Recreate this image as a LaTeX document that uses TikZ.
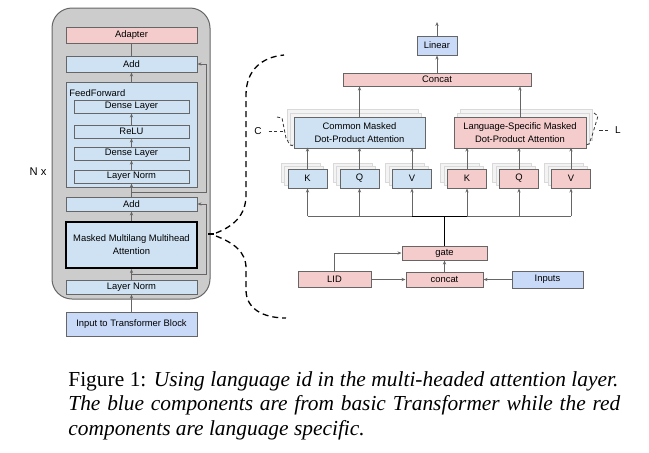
\documentclass[tikz,border=0pt]{standalone}
\usepackage{fontspec}
\setmainfont{Liberation Serif}
\newfontfamily\boxfont{Liberation Sans}
\usetikzlibrary{arrows.meta,positioning,calc}
\definecolor{blockgray}{HTML}{CCCCCC}
\definecolor{bluefill}{HTML}{CFE2F3}
\definecolor{pinkfill}{HTML}{F4CCCC}
\definecolor{lavfill}{HTML}{C9DAF8}
\definecolor{edgegray}{HTML}{666666}
\definecolor{shadefill}{HTML}{F3F3F3}
\definecolor{shadeedge}{HTML}{D9D9D9}

\begin{document}
\begin{tikzpicture}[
		x=0.5pt, y=-0.5pt,
		>={Stealth[length=2pt,width=1.6pt]},
		box/.style={
			draw=edgegray,
			line width=0.5pt,
			inner sep=0pt,
			align=center,
			font=\boxfont\fontsize{4.7}{5.6}\selectfont
		},
		bluebox/.style={box, fill=bluefill},
		pinkbox/.style={box, fill=pinkfill},
		lavbox/.style={box, fill=lavfill},
		shadebox/.style={
			draw=shadeedge,
			fill=shadefill,
			line width=0.4pt,
			inner sep=0pt
		},
		link/.style={
			->,
			draw=edgegray,
			line width=0.45pt
		},
		busline/.style={
			draw=black,
			line width=0.5pt
		},
		bracedash/.style={
			draw=black,
			line width=0.65pt,
			dash pattern=on 3pt off 2pt
		},
		tagdash/.style={
			draw=black!80,
			line width=0.4pt,
			dash pattern=on 1.6pt off 1.2pt
		},
		caption/.style={
			anchor=base west,
			inner sep=0pt,
			font=\fontsize{10.7}{12.3}\selectfont
		}
		]
		\useasboundingbox (0,0) rectangle (649,452);
		
		% transformer block (left)
		\draw[draw=edgegray, fill=blockgray, line width=0.5pt, rounded corners=10pt] (52,8) rectangle (210,299);
		\node[font=\boxfont\fontsize{5.6}{6}\selectfont] (nx) at (38,172) {N x};
		
		\node[pinkbox, minimum width=65.5pt, minimum height=8pt] (adapter) at (131.5,35) {Adapter};
		\node[bluebox, minimum width=65.5pt, minimum height=8pt] (add2) at (131.5,64) {Add};
		\node[bluebox, minimum width=65.5pt, minimum height=52.5pt] (ff) at (131.5,134.5) {};
		\node[anchor=west, font=\boxfont\fontsize{4.7}{5.6}\selectfont, inner sep=0pt] (fflabel) at (69,93) {FeedForward};
		\node[bluebox, minimum width=57.5pt, minimum height=6.5pt] (dense2) at (131.5,106.5) {Dense Layer};
		\node[bluebox, minimum width=57.5pt, minimum height=6.5pt] (relu) at (131.5,131.5) {ReLU};
		\node[bluebox, minimum width=57.5pt, minimum height=6.5pt] (dense1) at (131.5,153.5) {Dense Layer};
		\node[bluebox, minimum width=57.5pt, minimum height=6.5pt] (ln2) at (131.5,176.5) {Layer Norm};
		\node[bluebox, minimum width=65.5pt, minimum height=7pt] (add1) at (131.5,204) {Add};
		\node[bluebox, draw=black, line width=1pt, minimum width=65.5pt, minimum height=23pt] (mmma) at (131.5,245) {Masked Multilang Multihead\\[1pt]Attention};
		\node[bluebox, minimum width=65.5pt, minimum height=7pt] (ln1) at (131.5,287) {Layer Norm};
		\node[lavbox, minimum width=65.5pt, minimum height=12pt] (input) at (131.5,324) {Input to Transformer Block};
		
		\draw[link] (input) -- (ln1);
		\draw[link] (ln1) -- (mmma);
		\draw[link] (mmma) -- (add1);
		\draw[link] (add1) -- (ln2);
		\draw[link] (ln2) -- (dense1);
		\draw[link] (dense1) -- (relu);
		\draw[link] (relu) -- (dense2);
		\draw[link] (ff) -- (add2);
		\draw[draw=edgegray, line width=0.45pt] (add2) -- (adapter);
		
		% residual paths
		\coordinate (rail) at (206,0);
		\coordinate (br1) at (131.5,274);
		\coordinate (br2) at (131.5,192);
		\draw[link] (br1) -- (br1 -| rail) |- (add1.east);
		\draw[link] (br2) -- (br2 -| rail) |- (add2.east);
		
		% dashed brace to the zoomed view
		\coordinate (tip) at (208,234);
		\coordinate (bracetop) at (284,55);
		\coordinate (bracebot) at (286,318);
		\draw[black, line width=0.8pt] (tip) -- (214,234);
		\draw[bracedash] (216,233) .. controls (234,226) and (246,215) .. (246,195) -- (246,95) .. controls (246,70) and (262,57) .. (bracetop);
		\draw[bracedash] (216,236) .. controls (234,243) and (246,252) .. (246,268) -- (246,290) .. controls (246,308) and (262,318) .. (bracebot);
		
		% attention detail (right)
		\node[lavbox, minimum width=20pt, minimum height=9.5pt] (linear) at (437,45.5) {Linear};
		\coordinate (out) at (437,22);
		\node[pinkbox, minimum width=94pt, minimum height=6.5pt] (concat) at (437,79.5) {Concat};
		
		\foreach \d in {8,4} {
			\node[shadebox, minimum width=65.5pt, minimum height=15.5pt] at ({359.5-0.8*\d},{132.5-\d}) {};
			\node[shadebox, minimum width=66pt, minimum height=15.5pt] at ({520+0.8*\d},{132.5-\d}) {};
		}
		\node[bluebox, minimum width=65.5pt, minimum height=15.5pt] (cattn) at (359.5,132.5) {Common Masked\\[1pt]Dot-Product Attention};
		\node[pinkbox, minimum width=66pt, minimum height=15.5pt] (lattn) at (520,132.5) {Language-Specific Masked\\[1pt]Dot-Product Attention};
		
		\foreach \nm/\lbl/\cx/\sty in {ck/K/307.5/bluebox, cq/Q/359.5/bluebox, cv/V/412/bluebox, lk/K/467/pinkbox, lq/Q/519/pinkbox, lv/V/571/pinkbox} {
			\node[shadebox, minimum width=19.5pt, minimum height=9.5pt] at ({\cx-7},172.5) {};
			\node[shadebox, minimum width=19.5pt, minimum height=9.5pt] at ({\cx-3.5},175.5) {};
			\node[\sty, minimum width=19.5pt, minimum height=9.5pt] (\nm) at (\cx,178.5) {\lbl};
			\draw[link] (\nm.north) -- ++(0,-21);
		}
		
		\draw[link] (cattn.north) -- (cattn.north |- concat.south);
		\draw[link] (lattn.north) -- (lattn.north |- concat.south);
		\draw[link] (concat) -- (linear);
		\draw[link] (linear) -- (out);
		
		% C and L tags
		\node[font=\boxfont\fontsize{5}{6}\selectfont] (ctag) at (258,131) {C};
		\node[font=\boxfont\fontsize{5}{6}\selectfont] (ltag) at (618,130) {L};
		\draw[tagdash] (ctag.east) -- (284,131);
		\draw[tagdash] (277,117) -- (282,118) -- (286,138) -- (290,145) -- (294,146);
		\draw[tagdash] (ltag.west) -- (597,130);
		\draw[tagdash] (594,113) -- (598,116) -- (592,136) -- (589,144) -- (585,145);
		
		% gate and language id
		\node[pinkbox, minimum width=42.5pt, minimum height=7pt] (gate) at (444.5,253) {gate};
		\node[pinkbox, minimum width=38.5pt, minimum height=7.5pt] (lidcat) at (444.5,279.5) {concat};
		\node[pinkbox, minimum width=36.5pt, minimum height=8pt] (lid) at (334.5,279.5) {LID};
		\node[lavbox, minimum width=35.5pt, minimum height=8.5pt] (inputs) at (547.5,279.5) {Inputs};
		
		\coordinate (hub) at (444.5,216);
		\draw[draw=edgegray, line width=0.45pt] (ck.south |- hub) -- (lv.south |- hub);
		\foreach \nm in {ck,cq,cv,lk,lq,lv} {
			\draw[link] (\nm.south |- hub) -- (\nm.south);
		}
		\draw[busline] (cv.south |- hub) -- (lk.south |- hub);
		\draw[busline] (gate.north) -- (hub);
		
		\draw[link] (lid.east) -- (lidcat.west);
		\draw[link] (inputs.west) -- (lidcat.east);
		\draw[link] (lidcat.north) -- (gate.south);
		\draw[link] (lid.north) |- (gate.west);
		
		% caption
		\node[caption] (cap1) at (68,386) {\hbox to 275pt{Figure 1: \textit{Using language id in the multi-headed attention layer.}}};
		\node[caption] (cap2) at (68,410.5) {\hbox to 276pt{\itshape The blue components are from basic Transformer while the red}};
		\node[caption] (cap3) at (68,435) {\textit{components are language specific.}};
\end{tikzpicture}
\end{document}
